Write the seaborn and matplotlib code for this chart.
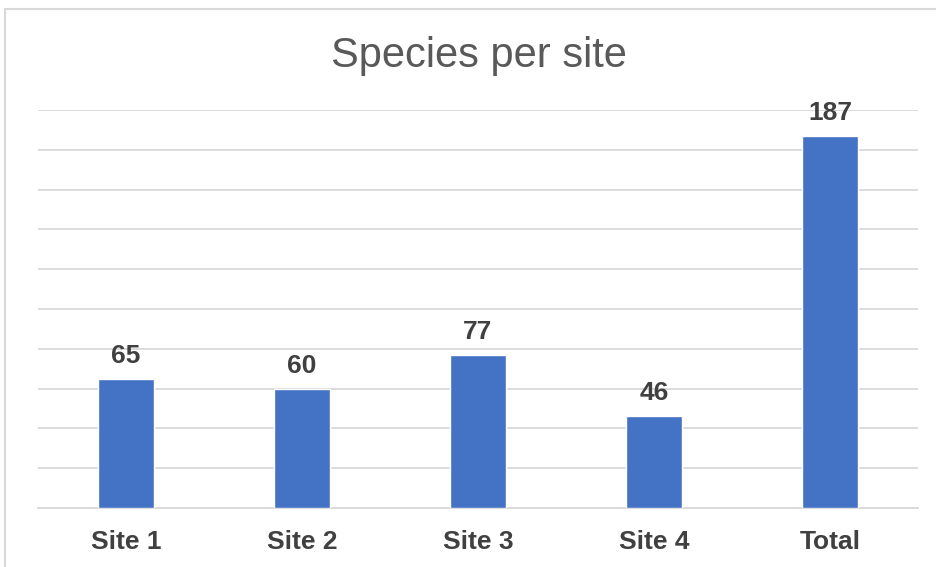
import matplotlib
matplotlib.use('Agg')
import matplotlib.pyplot as plt
import seaborn as sns
import pandas as pd
from matplotlib.patches import Rectangle

# Data
sites = ["Site 1", "Site 2", "Site 3", "Site 4", "Total"]
species = [65, 60, 77, 46, 187]
df = pd.DataFrame({"site": sites, "species": species})

sns.set_style("white")
plt.rcParams['font.family'] = ['Liberation Sans', 'DejaVu Sans']

fig = plt.figure(figsize=(9.36, 5.67), dpi=100)
# outer chart frame (cropped on right and bottom)
fig.patches.append(Rectangle((5 / 936, -0.1), 1.2, (567 - 9) / 567 + 0.1,
                             transform=fig.transFigure, fill=False,
                             edgecolor="#D9D9D9", linewidth=1.5))
ax = fig.add_axes([38 / 936, 59 / 567, 880 / 936, 398 / 567])

sns.barplot(data=df, x="site", y="species", color="#4472C4", width=0.315,
            saturation=1, ax=ax, zorder=3)

ax.set_ylim(0, 200)
ax.set_xlim(-0.5, 4.5)
ax.set_yticks(range(0, 201, 20))
ax.yaxis.grid(True, color="#D9D9D9", linewidth=1.3, zorder=0)
ax.set_axisbelow(True)
ax.tick_params(axis="y", left=False, labelleft=False)
ax.tick_params(axis="x", bottom=False, pad=12.5, labelsize=19, labelcolor="#404040")
for lbl in ax.get_xticklabels():
    lbl.set_fontweight("bold")
for s in ["top", "right", "left"]:
    ax.spines[s].set_visible(False)
ax.spines["bottom"].set_color("#D9D9D9")
ax.spines["bottom"].set_linewidth(1.3)
ax.set_xlabel("")
ax.set_ylabel("")

for i, v in enumerate(species):
    ax.annotate(str(v), (i, v), xytext=(0, 16), textcoords="offset pixels",
                ha="center", va="baseline", fontsize=19, fontweight="bold",
                color="#404040")

fig.text(479 / 936, 1 - 67 / 567, "Species per site", ha="center", va="baseline",
         fontsize=30, color="#595959")

plt.savefig("out.png", dpi=100)
